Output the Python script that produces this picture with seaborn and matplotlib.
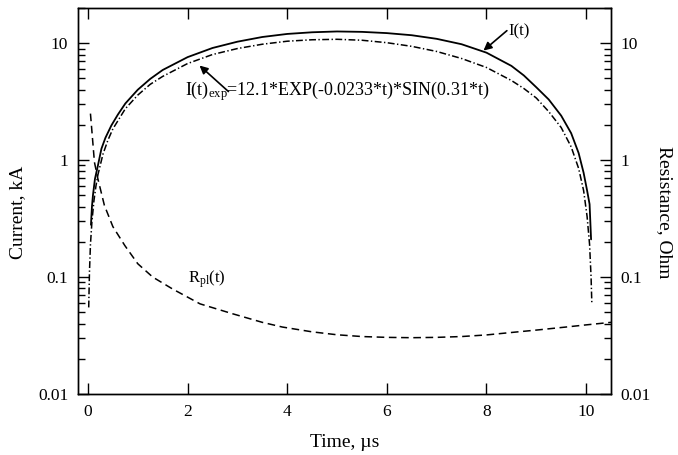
import matplotlib
matplotlib.use("Agg")
import matplotlib.pyplot as plt
import matplotlib.ticker as mticker
import seaborn as sns

# measured current I(t), kA
time_meas = [0.06, 0.08, 0.10, 0.14, 0.20, 0.27, 0.35, 0.47, 0.60, 0.75, 1.0, 1.25, 1.5,
             2.0, 2.5, 3.0, 3.5, 4.0, 4.5, 5.0, 5.5, 6.0, 6.5, 7.0, 7.5, 8.0, 8.5, 8.75,
             9.0, 9.25, 9.5, 9.7, 9.85, 9.95, 10.02, 10.07, 10.10]
current_meas = [0.28, 0.40, 0.50, 0.69, 0.90, 1.25, 1.55, 1.98, 2.45, 3.05, 4.0, 4.95, 5.9,
                7.6, 9.1, 10.3, 11.3, 12.0, 12.4, 12.6, 12.5, 12.2, 11.7, 10.9, 9.8, 8.3, 6.4, 5.3,
                4.2, 3.3, 2.4, 1.7, 1.15, 0.78, 0.55, 0.42, 0.21]

# fitted current I(t)exp, kA
time_fit = [0.015, 0.03, 0.05, 0.08, 0.12, 0.16, 0.20, 0.30, 0.40, 0.50, 0.75, 1.0, 1.25, 1.5,
            2.0, 2.5, 3.0, 3.5, 4.0, 4.5, 5.0, 5.5, 6.0, 6.5, 7.0, 7.5, 8.0, 8.5, 8.75,
            9.0, 9.25, 9.5, 9.7, 9.85, 9.95, 10.02, 10.07, 10.10, 10.115]
current_fit = [0.055, 0.11, 0.19, 0.30, 0.45, 0.60, 0.75, 1.12, 1.48, 1.85, 2.75, 3.6, 4.45, 5.2,
               6.7, 8.0, 9.0, 9.8, 10.4, 10.7, 10.8, 10.6, 10.1, 9.4, 8.5, 7.4, 6.2, 4.8, 4.1,
               3.4, 2.6, 1.9, 1.3, 0.85, 0.55, 0.33, 0.19, 0.10, 0.06]

# plasma resistance Rpl(t), Ohm
time_res = [0.05, 0.08, 0.13, 0.20, 0.33, 0.50, 0.74, 1.0, 1.3, 1.7, 2.25, 2.9, 3.5, 3.9,
            4.5, 5.0, 5.5, 6.0, 6.5, 7.0, 7.5, 8.0, 8.6, 9.0, 9.6, 10.0, 10.5]
resistance = [2.5, 1.75, 0.96, 0.69, 0.41, 0.27, 0.186, 0.13, 0.10, 0.079, 0.059, 0.0486, 0.041, 0.0374,
              0.034, 0.0321, 0.031, 0.0305, 0.0303, 0.0305, 0.031, 0.032, 0.0339, 0.0352, 0.0374, 0.039, 0.041]

y_ticks = [0.01, 0.1, 1, 10]
y_tick_labels = ['0.01', '0.1', '1', '10']
x_ticks = [0, 2, 4, 6, 8, 10]

sns.set_style("ticks")
plt.rcParams['font.family'] = ['Liberation Serif', 'DejaVu Serif']
plt.rcParams['mathtext.fontset'] = 'custom'
plt.rcParams['mathtext.rm'] = 'Liberation Serif'
plt.rcParams['mathtext.it'] = 'Liberation Serif:italic'
plt.rcParams['axes.linewidth'] = 1.0
# plain black everywhere, like the original
for key in ['text.color', 'axes.labelcolor', 'axes.edgecolor', 'xtick.color', 'ytick.color']:
    plt.rcParams[key] = 'black'

fig = plt.figure(figsize=(6.78, 4.55), dpi=100)
ax = fig.add_axes([78 / 678, 1 - 394 / 455, 533 / 678, 386 / 455])

sns.lineplot(x=time_meas, y=current_meas, ax=ax, color='black', linewidth=1.3,
             estimator=None, sort=False)
sns.lineplot(x=time_fit, y=current_fit, ax=ax, color='black', linewidth=1.1,
             linestyle=(0, (4.5, 1.6, 0.9, 1.6)), estimator=None, sort=False)
sns.lineplot(x=time_res, y=resistance, ax=ax, color='black', linewidth=1.1,
             linestyle=(0, (5, 3)), estimator=None, sort=False)

ax.set_yscale('log')
ax.set_xlim(-0.2, 10.5)
ax.set_ylim(0.01, 20)
ax.set_xticks(x_ticks)
ax.set_yticks(y_ticks, labels=y_tick_labels)
ax.yaxis.set_minor_locator(mticker.LogLocator(base=10, subs=range(2, 10)))
ax.yaxis.set_minor_formatter(mticker.NullFormatter())
ax.tick_params(axis='x', which='major', direction='in', length=8, width=1.0, top=True,
               labelsize=12.5, pad=7)
ax.tick_params(axis='y', which='major', direction='in', length=8, width=1.0, labelsize=12.5, pad=7)
ax.tick_params(axis='y', which='minor', direction='in', length=5, width=1.0)

ax.set_xlabel('Time, µs', fontsize=14)
ax.set_ylabel('Current, kA', fontsize=14)
ax.xaxis.set_label_coords(0.501, -0.103)
ax.yaxis.set_label_coords(-0.097, 0.47)

ax2 = ax.twinx()
ax2.set_yscale('log')
ax2.set_ylim(0.01, 20)
ax2.set_yticks(y_ticks, labels=y_tick_labels)
ax2.yaxis.set_minor_locator(mticker.LogLocator(base=10, subs=range(2, 10)))
ax2.yaxis.set_minor_formatter(mticker.NullFormatter())
ax2.tick_params(axis='y', which='major', direction='in', length=8, width=1.0, labelsize=12.5, pad=7)
ax2.tick_params(axis='y', which='minor', direction='in', length=5, width=1.0)
ax2.set_ylabel('Resistance, Ohm', fontsize=14, rotation=-90)
ax2.yaxis.set_label_coords(1.116, 0.47)

arrow = dict(arrowstyle='-|>', color='black', lw=1.2, mutation_scale=12, shrinkA=0, shrinkB=0)
ax.annotate('', xy=(7.94, 8.65), xytext=(8.41, 12.8), arrowprops=arrow)
ax.text(8.45, 12.5, 'I(t)', fontsize=12, ha='left', va='center')

ax.annotate('', xy=(2.24, 6.44), xytext=(2.82, 3.86), arrowprops=arrow)
ax.text(1.95, 3.9, r'I(t)$_{\mathrm{exp}}$=12.1*EXP(-0.0233*t)*SIN(0.31*t)', fontsize=13,
        ha='left', va='center')

ax.text(2.01, 0.095, r'R$_{\mathrm{pl}}$(t)', fontsize=12, ha='left', va='center')

fig.savefig('out.png', dpi=100)
